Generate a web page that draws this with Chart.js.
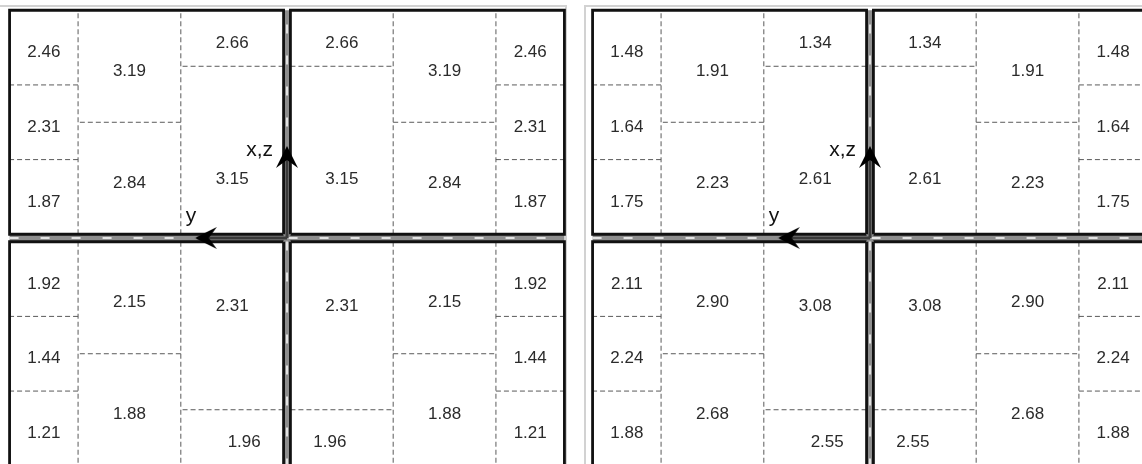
<!DOCTYPE html>
<html>
<head>
<meta charset="utf-8">
<script src="https://cdn.jsdelivr.net/npm/chart.js@4.4.1/dist/chart.umd.min.js"></script>
<style>
    html, body { margin: 0; padding: 0; background: #fff; }
    body { position: relative; width: 1142px; height: 464px; overflow: hidden; }
    .frame { position: absolute; top: 5px; height: 480px; border-top: 2px solid #d2d2d2; }
    #frameLeft { left: 0; width: 565px; border-right: 2px solid #d2d2d2; }
    #frameRight { left: 584px; width: 600px; border-left: 2px solid #d2d2d2; }
    canvas { position: absolute; top: 0; }
    #leftPanel { left: 0; }
    #rightPanel { left: 586px; }
</style>
</head>
<body>
<div class="frame" id="frameLeft"></div>
<div class="frame" id="frameRight"></div>
<canvas id="leftPanel" width="575" height="464"></canvas>
<canvas id="rightPanel" width="556" height="464"></canvas>
<script>
// node layout of one quadrant, in units counted outward from the centre: [u0, u1, v0, v1]
const nodeMesh = [
    [6, 8, 8, 12], [6, 8, 4, 8], [6, 8, 0, 4],
    [3, 6, 6, 12], [3, 6, 0, 6],
    [0, 3, 9, 12], [0, 3, 0, 9]
];
// where the value of each node is written (same units)
const topLabelAt = [[7, 10], [7, 6], [7, 2], [4.5, 9], [4.5, 3], [1.5, 10.5], [1.5, 3.2]];
const bottomLabelAt = [[7, 10], [7, 6], [7, 2], [4.5, 9], [4.5, 3], [1.15, 10.5], [1.5, 3.2]];

// node values, same order as nodeMesh
const leftTop = [2.46, 2.31, 1.87, 3.19, 2.84, 2.66, 3.15];
const leftBottom = [1.21, 1.44, 1.92, 1.88, 2.15, 1.96, 2.31];
const rightTop = [1.48, 1.64, 1.75, 1.91, 2.23, 1.34, 2.61];
const rightBottom = [1.88, 2.24, 2.11, 2.68, 2.90, 2.55, 3.08];

const axisNames = ['x,z', 'y'];

const HALF_GAP_X = 0.1;
const HALF_GAP_Y = 0.2;
const QUADRANTS = [
    { sx: -1, sy: 1, top: true }, { sx: 1, sy: 1, top: true },
    { sx: -1, sy: -1, top: false }, { sx: 1, sy: -1, top: false }
];

function toX(sx, u) { return sx * (HALF_GAP_X + u); }
function toY(sy, v) { return sy * (HALF_GAP_Y + v); }

function dashedEdges() {
    const pts = [];
    QUADRANTS.forEach(q => {
        nodeMesh.forEach(([u0, u1, v0, v1]) => {
            if (u1 < 8) {
                pts.push({ x: toX(q.sx, u1), y: toY(q.sy, v0) }, { x: toX(q.sx, u1), y: toY(q.sy, v1) }, { x: 0, y: null });
            }
            if (v1 < 12) {
                pts.push({ x: toX(q.sx, u0), y: toY(q.sy, v1) }, { x: toX(q.sx, u1), y: toY(q.sy, v1) }, { x: 0, y: null });
            }
        });
    });
    return pts;
}

function quadrantBoxes() {
    const pts = [];
    QUADRANTS.forEach(q => {
        pts.push(
            { x: toX(q.sx, 0), y: toY(q.sy, 0) }, { x: toX(q.sx, 8), y: toY(q.sy, 0) },
            { x: toX(q.sx, 8), y: toY(q.sy, 12) }, { x: toX(q.sx, 0), y: toY(q.sy, 12) },
            { x: toX(q.sx, 0), y: toY(q.sy, 0) }, { x: 0, y: null }
        );
    });
    return pts;
}

function centreLines() {
    return [
        { x: 0, y: -12.3 }, { x: 0, y: 12.2 }, { x: 0, y: null },
        { x: -8.1, y: 0 }, { x: 8.1, y: 0 }
    ];
}

// axis arrows: head centre in chart units, shaft runs from the origin
const arrowHeads = [{ x: 0, y: 4.34 }, { x: -2.37, y: 0 }];

function arrowShafts() {
    return [
        { x: 0, y: 0 }, { x: 0, y: 4.3 }, { x: 0, y: null },
        { x: 0, y: 0 }, { x: -2.3, y: 0 }
    ];
}

function arrowHead() {
    const c = document.createElement('canvas');
    c.width = 24;
    c.height = 24;
    const g = c.getContext('2d');
    g.fillStyle = '#000';
    g.beginPath();
    g.moveTo(12, 1);
    g.lineTo(23, 23);
    g.lineTo(12, 15);
    g.lineTo(1, 23);
    g.closePath();
    g.fill();
    return c;
}

function labelPlugin(topValues, bottomValues) {
    return {
        id: 'nodeLabels',
        afterDatasetsDraw(chart) {
            const { ctx, scales: { x, y } } = chart;
            ctx.save();
            ctx.fillStyle = '#2b2b2b';
            ctx.textAlign = 'center';
            ctx.textBaseline = 'middle';
            ctx.font = '17px "Liberation Sans", Arial, sans-serif';
            QUADRANTS.forEach(q => {
                const values = q.top ? topValues : bottomValues;
                const anchors = q.top ? topLabelAt : bottomLabelAt;
                values.forEach((val, i) => {
                    const [u, v] = anchors[i];
                    ctx.fillText(val.toFixed(2), x.getPixelForValue(toX(q.sx, u)), y.getPixelForValue(toY(q.sy, v)) + 5);
                });
            });
            ctx.fillStyle = '#111';
            ctx.font = '21px "Liberation Sans", Arial, sans-serif';
            ctx.textBaseline = 'alphabetic';
            ctx.fillText(axisNames[0], x.getPixelForValue(-0.8), y.getPixelForValue(4.4));
            ctx.fillText(axisNames[1], x.getPixelForValue(-2.8), y.getPixelForValue(0.85));
            ctx.restore();
        }
    };
}

function makePanel(canvasId, topValues, bottomValues, xMin, xMax) {
    const ctx = document.getElementById(canvasId).getContext('2d');
    const line = { showLine: true, pointRadius: 0, spanGaps: false, tension: 0, fill: false };
    return new Chart(ctx, {
        type: 'scatter',
        data: {
            datasets: [
                { ...line, data: dashedEdges(), borderColor: '#5a5a5a', borderWidth: 1, borderDash: [5, 3], order: 5 },
                { ...line, data: centreLines(), borderColor: '#8e8e8e', borderWidth: 6, order: 4 },
                { ...line, data: centreLines(), borderColor: '#ffffff', borderWidth: 1.5, borderDash: [9, 22], order: 3 },
                { ...line, data: arrowShafts(), borderColor: '#3a3a3a', borderWidth: 3, order: 2 },
                { ...line, data: quadrantBoxes(), borderColor: '#111111', borderWidth: 2.8, order: 1 },
                {
                    data: arrowHeads,
                    showLine: false,
                    pointStyle: arrowHead(),
                    pointRotation: [0, -90],
                    pointRadius: 12,
                    order: 0
                }
            ]
        },
        options: {
            responsive: false,
            animation: false,
            devicePixelRatio: 1,
            events: [],
            layout: { padding: 0, autoPadding: false },
            plugins: { legend: { display: false }, tooltip: { enabled: false } },
            scales: {
                x: { type: 'linear', min: xMin, max: xMax, display: false },
                y: { type: 'linear', min: -12.107, max: 12.75, display: false }
            }
        },
        plugins: [labelPlugin(topValues, bottomValues)]
    });
}

makePanel('leftPanel', leftTop, leftBottom, -8.3796, 8.4088);
makePanel('rightPanel', rightTop, rightBottom, -8.292, 7.942);
</script>
</body>
</html>
